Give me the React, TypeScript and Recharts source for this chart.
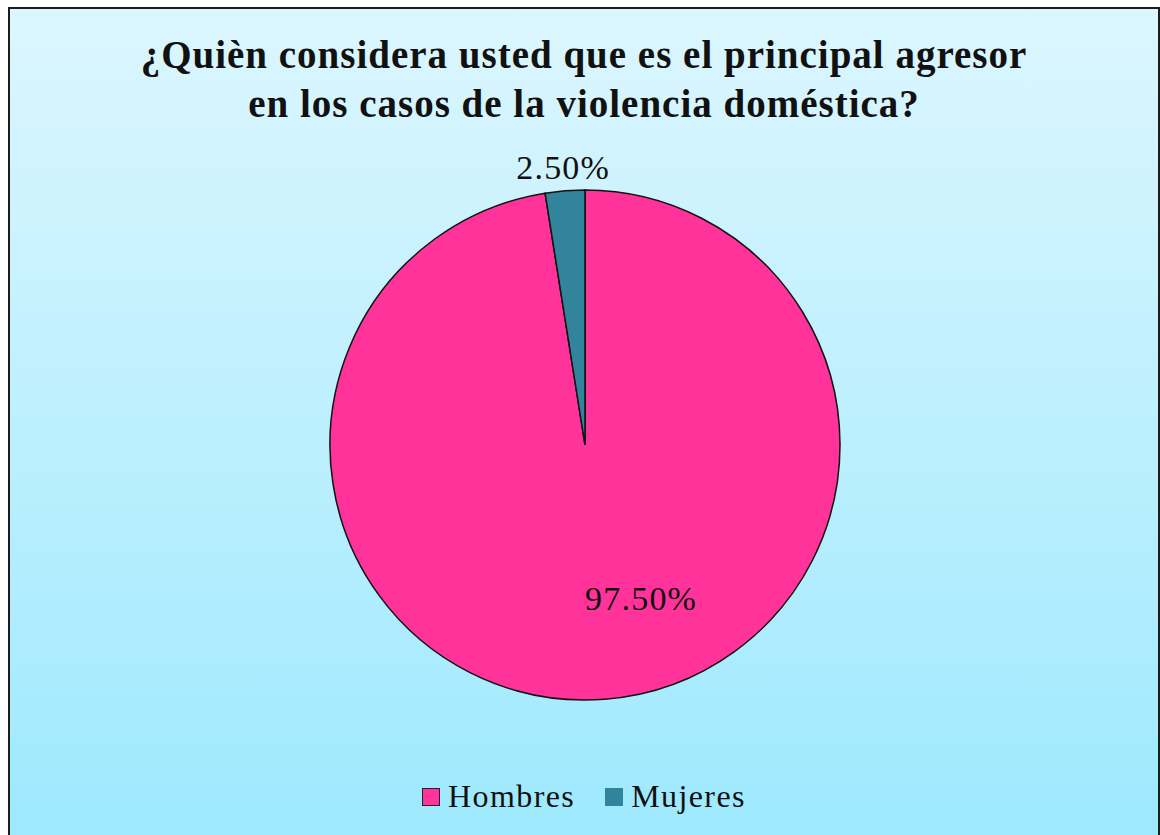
import React from 'react';
import { PieChart, Pie, Cell, Legend } from 'recharts';

const categories = ['Hombres', 'Mujeres'];
const values = [97.5, 2.5];
const colors = ['#FF3399', '#31849B'];
const titleLines = ['¿Quièn considera usted que es el principal agresor', 'en los casos de la violencia doméstica?'];

const pieData = categories.map((name, i) => ({ name, value: values[i] }));

const RADIAN = Math.PI / 180;
const serif = '"Liberation Serif", "DejaVu Serif", serif';

const renderLabel = (props: any) => {
    const { cx, cy, midAngle, outerRadius, value, index } = props;
    let x: number;
    let y: number;
    if (index === 0) {
        // inside, Excel "best fit"
        x = cx + outerRadius * 0.22;
        y = cy + outerRadius * 0.6;
    } else {
        const r = outerRadius + 23;
        x = cx + r * Math.cos(-midAngle * RADIAN);
        y = cy + r * Math.sin(-midAngle * RADIAN);
    }
    return (
        <text
            x={x}
            y={y}
            textAnchor="middle"
            dominantBaseline="central"
            fill="#111"
            fontSize={34}
            letterSpacing={1.2}
            fontFamily={serif}
        >
            {value.toFixed(2) + '%'}
        </text>
    );
};

const renderLegend = () => (
    <div
        style={{
            display: 'flex',
            justifyContent: 'center',
            alignItems: 'center',
            fontFamily: serif,
            fontSize: 32,
            letterSpacing: 1.4,
            color: '#111',
        }}
    >
        {categories.map((name, i) => (
            <div key={name} style={{ display: 'flex', alignItems: 'center', marginRight: i === 0 ? 30 : 0 }}>
                <span
                    style={{
                        display: 'inline-block',
                        width: 18,
                        height: 18,
                        background: colors[i],
                        border: i === 0 ? '1.5px solid #222' : 'none',
                        boxSizing: 'border-box',
                        marginRight: 8,
                    }}
                />
                {name}
            </div>
        ))}
    </div>
);

const App: React.FC = () => (
    <div
        style={{
            position: 'fixed',
            left: 8,
            top: 7,
            width: 1152,
            height: 840,
            boxSizing: 'border-box',
            border: '2px solid #1c1c1c',
            background: 'linear-gradient(to bottom, #DCF6FE 0%, #9DE9FE 100%)',
            overflow: 'hidden',
        }}
    >
        <div
            style={{
                position: 'absolute',
                top: 21,
                left: 0,
                width: 1148,
                textAlign: 'center',
                fontFamily: serif,
                fontWeight: 'bold',
                fontSize: 39,
                letterSpacing: 1,
                lineHeight: '49px',
                color: '#111',
            }}
        >
            {titleLines.map((t) => (
                <div key={t}>{t}</div>
            ))}
        </div>
        <PieChart width={1148} height={836}>
            <Pie
                data={pieData}
                dataKey="value"
                nameKey="name"
                cx={570}
                cy={431}
                outerRadius={255}
                startAngle={90}
                endAngle={-270}
                stroke="#111"
                strokeWidth={1.5}
                label={renderLabel}
                labelLine={false}
                isAnimationActive={false}
            >
                {pieData.map((d, i) => (
                    <Cell key={d.name} fill={colors[i]} />
                ))}
            </Pie>
            <Legend content={renderLegend} wrapperStyle={{ position: 'absolute', top: 769, left: 0, width: 1148 }} />
        </PieChart>
    </div>
);

export default App;
